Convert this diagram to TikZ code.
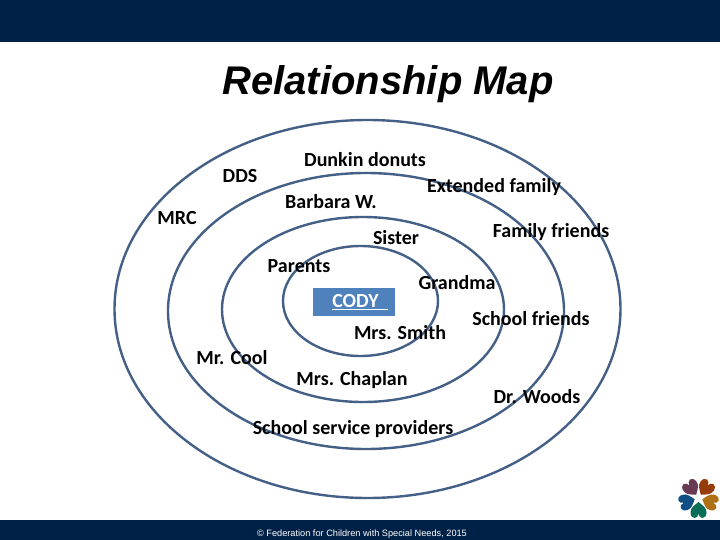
\documentclass[tikz,border=0pt]{standalone}
\usepackage{fontspec}
\setmainfont{Carlito}
\newfontfamily\titlefont{Liberation Sans}
\definecolor{bandblue}{RGB}{0,33,71}
\definecolor{ringblue}{RGB}{68,96,134}
\definecolor{codyblue}{RGB}{79,129,189}
\tikzset{
  ring/.style={draw=ringblue, line width=2.4pt},
  lbl/.style={font=\fontsize{20}{22}\selectfont\bfseries, inner sep=0pt, text=black},
  band/.style={fill=bandblue, draw=none}
}
\begin{document}
\begin{tikzpicture}[x=1pt, y=-1pt]
\useasboundingbox (0,0) rectangle (720,540);
\fill[white] (0,0) rectangle (720,540);

\fill[band] (0,0) rectangle (720,42);
\fill[band] (0,520) rectangle (720,540);

\node[font=\titlefont\fontsize{40}{46}\selectfont\bfseries\itshape] (title) at (388,84) {Relationship Map};

% rings
\draw[ring] (367.5,309) ellipse (253 and 189);
\draw[ring] (366,311) ellipse (198 and 138);
\draw[ring] (363,309.5) ellipse (141 and 92.5);
\draw[ring] (360.5,301) ellipse (77.5 and 55);

\node[fill=codyblue, minimum width=82pt, minimum height=28pt, inner sep=0pt] (cody) at (354,302) {};
\node[font=\fontsize{20}{22}\selectfont\bfseries, text=white] (codytext) at (360,302) {\underline{CODY\ \ }};

\node[lbl] (dunkin) at (365,160) {Dunkin donuts};
\node[lbl] (extended) at (494,187) {Extended family};
\node[lbl] (dds) at (240,176) {DDS};
\node[lbl] (barbara) at (331,202) {Barbara W.};
\node[lbl] (mrc) at (177,218) {MRC};
\node[lbl] (friends) at (551,232) {Family friends};
\node[lbl] (sister) at (396,238) {Sister};
\node[lbl] (parents) at (299,266) {Parents};
\node[lbl] (grandma) at (457,283) {Grandma};
\node[lbl] (school) at (531,319) {School friends};
\node[lbl] (smith) at (400,333) {Mrs. Smith};
\node[lbl] (cool) at (232,358) {Mr. Cool};
\node[lbl] (chaplan) at (352,380) {Mrs. Chaplan};
\node[lbl] (woods) at (537,397) {Dr. Woods};
\node[lbl] (service) at (353,429) {School service providers};

\node[font=\titlefont\fontsize{9.2}{10}\selectfont, text=white, inner sep=0pt] (copy) at (362,534.5) {\copyright\ Federation for Children with Special Needs, 2015};

% logo
\foreach \ang/\col in {126/{rgb,255:red,104;green,58;blue,84},54/{rgb,255:red,150;green,60;blue,10},-18/{rgb,255:red,176;green,112;blue,22},-90/{rgb,255:red,8;green,110;blue,88},198/{rgb,255:red,16;green,78;blue,134}}
  \fill[fill={\col}, shift={(698.5,498)}, rotate=\ang-90] (0,-4) .. controls (-5,-8) and (-8,-10) .. (-8,-14.5) .. controls (-8,-18) and (-6,-20) .. (-4,-20) .. controls (-2,-20) and (0,-18) .. (0,-15.5) .. controls (0,-18) and (2,-20) .. (4,-20) .. controls (6,-20) and (8,-18) .. (8,-14.5) .. controls (8,-10) and (5,-8) .. (0,-4) -- cycle;

\end{tikzpicture}
\end{document}
